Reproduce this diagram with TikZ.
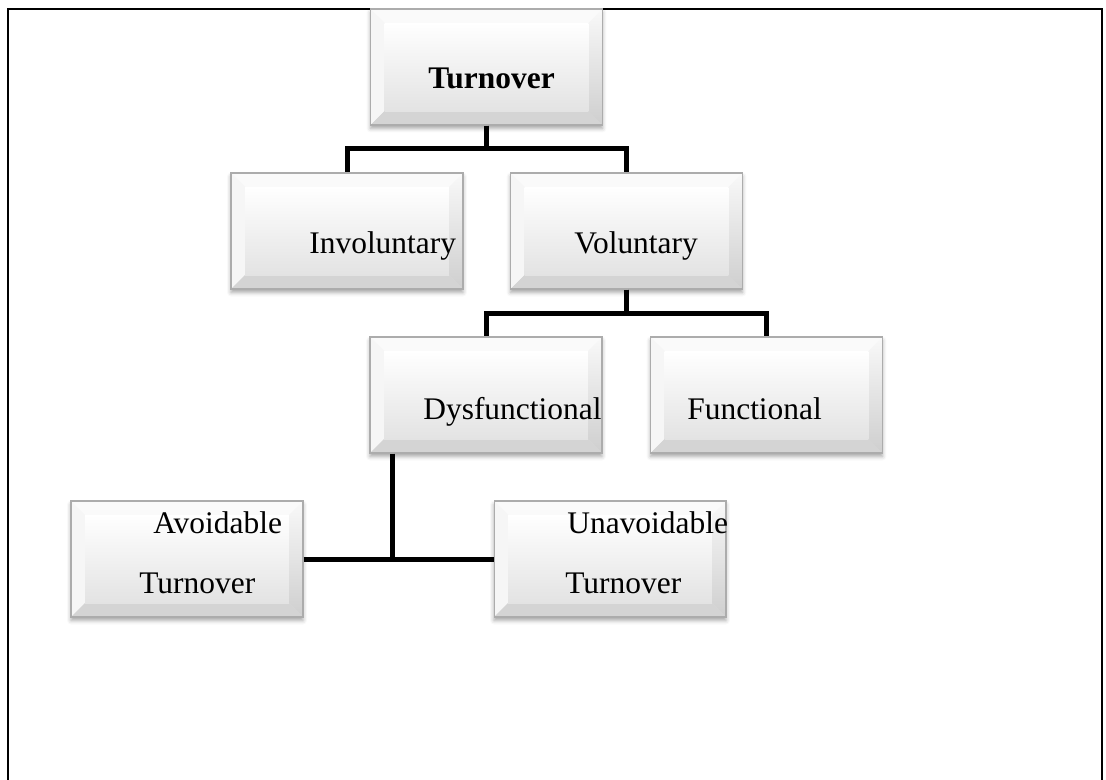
\documentclass[tikz,border=0pt]{standalone}
\usepackage{fontspec}
\setmainfont{Liberation Serif}
\newfontfamily\boxfont{Liberation Serif}
\usetikzlibrary{shadows.blur}
\newcommand{\bevw}{0.28cm}

\begin{document}
\begin{tikzpicture}[x=0.02cm, y=-0.02cm]

% Define styles
\tikzstyle{box} = [rectangle, draw=gray!65, line width=0.6pt, minimum width=4.64cm, minimum height=2.32cm, inner sep=0pt,
  top color=gray!3, bottom color=gray!25,
  blur shadow={shadow xshift=0pt, shadow yshift=-0.07cm, shadow blur radius=0.08cm, shadow opacity=35},
  path picture={
    \path (path picture bounding box.north west) coordinate (pnw)
          (path picture bounding box.north east) coordinate (pne)
          (path picture bounding box.south east) coordinate (pse)
          (path picture bounding box.south west) coordinate (psw);
    \path ([shift={(\bevw,-\bevw)}]pnw) coordinate (qnw)
          ([shift={(-\bevw,-\bevw)}]pne) coordinate (qne)
          ([shift={(-\bevw,\bevw)}]pse) coordinate (qse)
          ([shift={(\bevw,\bevw)}]psw) coordinate (qsw);
    \fill[gray!4] (pnw) -- (pne) -- (qne) -- (qnw) -- cycle;
    \fill[gray!7] (pnw) -- (qnw) -- (qsw) -- (psw) -- cycle;
    \shade[top color=gray!5, bottom color=gray!38] (pne) -- (pse) -- (qse) -- (qne) -- cycle;
    \fill[gray!34] (psw) -- (qsw) -- (qse) -- (pse) -- cycle;
    \shade[top color=white, bottom color=gray!22] (qnw) rectangle (qse);
  }]
\tikzstyle{lbl} = [anchor=base west, inner sep=0pt, font=\boxfont\fontsize{17.9}{21}\selectfont]
\tikzstyle{boldlbl} = [lbl, font=\boxfont\fontsize{17.9}{21}\selectfont\bfseries]
\tikzstyle{conn} = [line width=0.1cm, draw=black]

\useasboundingbox (0,0) rectangle (1106,779);

% Frame
\draw[line width=0.04cm] (8,800) -- (8,9) -- (1102,9) -- (1102,800);

% Define nodes (boxes)
\node[box] (turnover) at (486.5,67) {};
\node[box] (involuntary) at (347,231) {};
\node[box] (voluntary) at (626.5,231) {};
\node[box] (dysfunctional) at (486,395) {};
\node[box] (functional) at (766.5,395) {};
\node[box] (avoidable) at (187,559) {};
\node[box] (unavoidable) at (610,559) {};

% Texts
\node[boldlbl] (turnoverText) at (428,88) {Turnover};
\node[lbl] (involuntaryText) at (309,253) {Involuntary};
\node[lbl] (voluntaryText) at (574,253) {Voluntary};
\node[lbl] (dysfunctionalText) at (423,419) {Dysfunctional};
\node[lbl] (functionalText) at (687,419) {Functional};
\node[lbl] (avoidableText) at (153,533) {Avoidable};
\node[lbl] (avoidableTurnover) at (139,593) {Turnover};
\node[lbl] (unavoidableText) at (567,533) {Unavoidable};
\node[lbl] (unavoidableTurnover) at (565,593) {Turnover};

% Connectors
\draw[conn] (turnover.south) -- ++(0,23) -| (involuntary.north);
\draw[conn] (turnover.south) -- ++(0,23) -| (voluntary.north);

\draw[conn] (voluntary.south) -- ++(0,24) -| (dysfunctional.north);
\draw[conn] (voluntary.south) -- ++(0,24) -| (functional.north);

\draw[conn] ([xshift=0.46cm]dysfunctional.south west) |- (avoidable.east);
\draw[conn] (avoidable.east) -- (unavoidable.west);

\end{tikzpicture}
\end{document}
